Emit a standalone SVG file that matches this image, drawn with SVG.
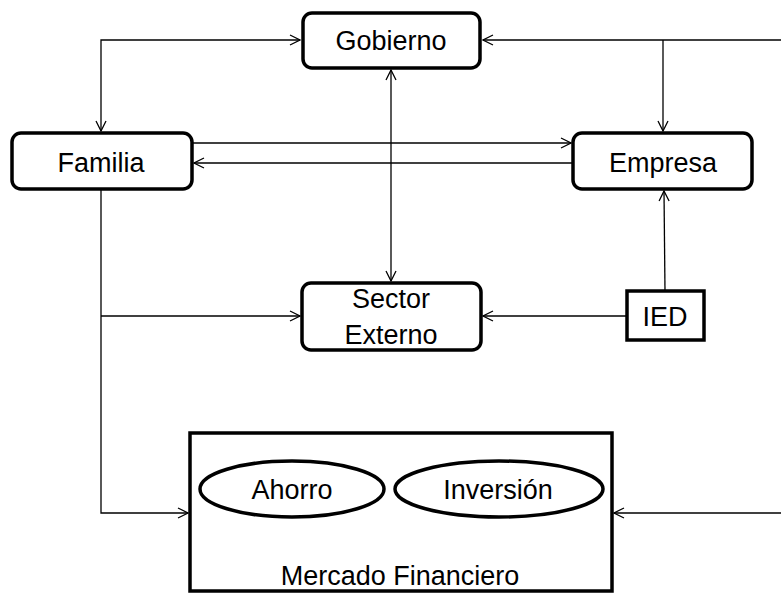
<svg xmlns="http://www.w3.org/2000/svg" width="781" height="593" viewBox="0 0 781 593">
<style>
.box{fill:#fff;stroke:#000;stroke-width:3.5}
.lbl{font-family:"Liberation Sans",Arial,sans-serif;font-size:27px;fill:#000;text-anchor:middle}
.c{fill:none;stroke:#000;stroke-width:1.3}
</style>
<defs>
<marker id="a" viewBox="0 0 12 12" refX="11" refY="6" markerWidth="12" markerHeight="12" markerUnits="userSpaceOnUse" orient="auto-start-reverse">
<path d="M1,1 L11,6 L1,11" fill="none" stroke="#000" stroke-width="1.3"/>
</marker>
</defs>
<rect width="781" height="593" fill="#fff"/>
<g id="connectors">
<path class="c" d="M101,131 L101,40 L300,40" marker-start="url(#a)" marker-end="url(#a)"/>
<path class="c" d="M781,40 L483,40" marker-end="url(#a)"/>
<path class="c" d="M663,40 L663,131" marker-end="url(#a)"/>
<path class="c" d="M193,143 L571,143" marker-end="url(#a)"/>
<path class="c" d="M573,163 L194,163" marker-end="url(#a)"/>
<path class="c" d="M391,70 L391,281" marker-start="url(#a)" marker-end="url(#a)"/>
<path class="c" d="M101,190 L101,513 L188,513" marker-end="url(#a)"/>
<path class="c" d="M101,316 L300,316" marker-end="url(#a)"/>
<path class="c" d="M627,316 L483,316" marker-end="url(#a)"/>
<path class="c" d="M665,291 L664,191" marker-end="url(#a)"/>
<path class="c" d="M781,513 L614,513" marker-end="url(#a)"/>
</g>
<g id="gobierno"><rect class="box" x="303" y="13" width="177" height="55" rx="9"/><text class="lbl" x="391" y="50">Gobierno</text></g>
<g id="familia"><rect class="box" x="12" y="133" width="180" height="56" rx="9"/><text class="lbl" x="101" y="172">Familia</text></g>
<g id="empresa"><rect class="box" x="573" y="133" width="179" height="56" rx="9"/><text class="lbl" x="663" y="172">Empresa</text></g>
<g id="sector"><rect class="box" x="302" y="283" width="179" height="67" rx="9"/><text class="lbl" x="391" y="308">Sector</text><text class="lbl" x="391" y="344">Externo</text></g>
<g id="ied"><rect class="box" x="627" y="291" width="77" height="49"/><text class="lbl" x="665" y="326">IED</text></g>
<g id="mercado"><rect class="box" x="190" y="433" width="422" height="158"/>
<ellipse class="box" cx="292" cy="489" rx="92" ry="28"/><text class="lbl" x="292" y="499">Ahorro</text>
<ellipse class="box" cx="499" cy="489" rx="104" ry="28"/><text class="lbl" x="498" y="499">Inversión</text>
<text class="lbl" x="400" y="585">Mercado Financiero</text></g>
</svg>
